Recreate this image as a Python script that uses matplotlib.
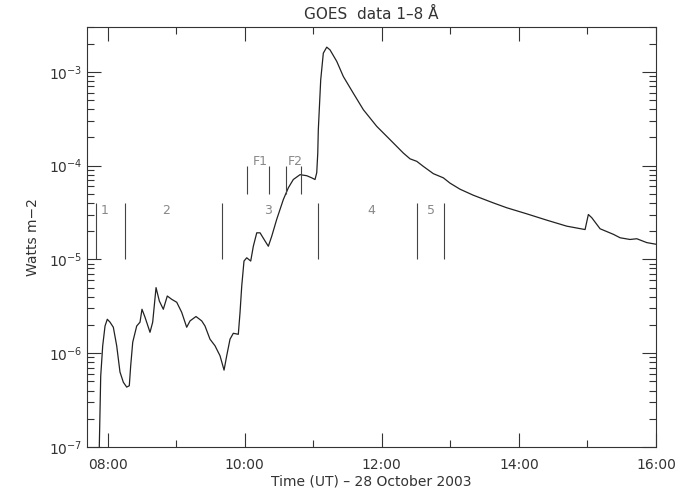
import numpy as np
import matplotlib
matplotlib.use("Agg")
import matplotlib.pyplot as plt
from matplotlib.ticker import FixedLocator, FuncFormatter, LogLocator

# GOES 1-8 A flux (time in decimal hours UT)
hours = [7.875, 7.90, 7.929, 7.963, 7.996, 8.036, 8.084, 8.133, 8.181, 8.230,
         8.279, 8.317, 8.337, 8.367, 8.425, 8.473, 8.502, 8.546, 8.619, 8.658,
         8.707, 8.755, 8.813, 8.871, 8.936, 9.009, 9.081, 9.154, 9.203, 9.290,
         9.373, 9.421, 9.494, 9.567, 9.640, 9.699, 9.738, 9.786, 9.834, 9.907,
         9.932, 9.957, 9.990, 10.030, 10.088, 10.126, 10.176, 10.224, 10.297, 10.345,
         10.394, 10.467, 10.564, 10.637, 10.709, 10.807, 10.905, 10.978, 11.026, 11.051,
         11.066, 11.074, 11.109, 11.147, 11.197, 11.245, 11.343, 11.439, 11.585, 11.731,
         11.926, 12.120, 12.314, 12.412, 12.510, 12.606, 12.752, 12.898, 12.995, 13.141,
         13.335, 13.627, 13.823, 14.114, 14.406, 14.698, 14.965, 15.013, 15.063, 15.184,
         15.378, 15.476, 15.621, 15.719, 15.865, 16.0]
flux = [7e-8, 5.7e-7, 1.2e-6, 1.95e-6, 2.3e-6, 2.14e-6, 1.89e-6, 1.2e-6, 6.3e-7, 4.9e-7,
        4.35e-7, 4.5e-7, 7.3e-7, 1.31e-6, 1.95e-6, 2.14e-6, 2.94e-6, 2.42e-6, 1.67e-6, 2.14e-6,
        5.0e-6, 3.6e-6, 2.94e-6, 4.07e-6, 3.75e-6, 3.49e-6, 2.73e-6, 1.89e-6, 2.21e-6, 2.46e-6,
        2.21e-6, 1.95e-6, 1.41e-6, 1.2e-6, 9.4e-7, 6.6e-7, 9.4e-7, 1.41e-6, 1.63e-6, 1.59e-6,
        2.71e-6, 5.2e-6, 9.6e-6, 1.04e-5, 9.6e-6, 1.38e-5, 1.92e-5, 1.92e-5, 1.57e-5, 1.38e-5,
        1.76e-5, 2.67e-5, 4.35e-5, 5.8e-5, 7.1e-5, 8.0e-5, 7.8e-5, 7.4e-5, 7.1e-5, 8.4e-5,
        1.36e-4, 2.41e-4, 8.2e-4, 1.58e-3, 1.83e-3, 1.71e-3, 1.29e-3, 8.9e-4, 5.9e-4, 3.94e-4,
        2.62e-4, 1.89e-4, 1.36e-4, 1.18e-4, 1.11e-4, 9.8e-5, 8.2e-5, 7.4e-5, 6.5e-5, 5.6e-5,
        4.83e-5, 4.0e-5, 3.55e-5, 3.06e-5, 2.62e-5, 2.26e-5, 2.08e-5, 3.01e-5, 2.78e-5, 2.12e-5,
        1.85e-5, 1.70e-5, 1.63e-5, 1.66e-5, 1.51e-5, 1.45e-5]

# phase boundaries and labels
phase_times = [7.831, 8.259, 9.665, 11.074, 12.510, 12.912]
phase_labels = ["1", "2", "3", "4", "5"]
phase_label_times = [7.963, 8.852, 10.34, 11.843, 12.718]
flare_times = [10.038, 10.359, 10.599, 10.817]
flare_labels = ["F1", "F2"]
flare_label_times = [10.234, 10.734]

fig = plt.figure(figsize=(6.84, 5.04), dpi=100)
ax = fig.add_axes([0.1272, 0.1131, 0.8319, 0.8333])

ax.plot(hours, flux, color="#222222", lw=0.9)

ax.vlines(phase_times, 1e-5, 4e-5, color="#444444", lw=0.8)
for t, s in zip(phase_label_times, phase_labels):
    ax.text(t, 3.3e-5, s, color="#888888", fontsize=9, ha="center", va="center")
ax.vlines(flare_times, 5e-5, 1e-4, color="#444444", lw=0.8)
for t, s in zip(flare_label_times, flare_labels):
    ax.text(t, 1.11e-4, s, color="#888888", fontsize=9, ha="center", va="center")

ax.set_yscale("log")
ax.set_xlim(7.7, 16.0)
ax.set_ylim(1e-7, 3e-3)

ax.xaxis.set_major_locator(FixedLocator([8, 10, 12, 14, 16]))
ax.xaxis.set_minor_locator(FixedLocator([9, 11, 13, 15]))
ax.xaxis.set_major_formatter(FuncFormatter(lambda v, p: "%02d:00" % int(round(v))))
ax.yaxis.set_major_locator(LogLocator(base=10, numticks=10))
ax.yaxis.set_minor_locator(LogLocator(base=10, subs=np.arange(2, 10), numticks=20))

ax.tick_params(which="both", direction="in", top=True, right=True,
               colors="#333333", labelsize=10)
ax.tick_params(which="major", length=10, width=0.8)
ax.tick_params(which="minor", length=5, width=0.8)
ax.tick_params(axis="x", which="major", pad=8)
for sp in ax.spines.values():
    sp.set_color("#333333")
    sp.set_linewidth(0.8)

ax.set_xlabel("Time (UT) \u2013 28 October 2003", color="#333333", fontsize=10, labelpad=2)
ax.set_ylabel("Watts m\u22122", color="#333333", fontsize=10, labelpad=6)
ax.set_title("GOES  data 1\u20138 \u00c5", color="#333333", fontsize=11, pad=6)

fig.savefig("out.png", dpi=100)
